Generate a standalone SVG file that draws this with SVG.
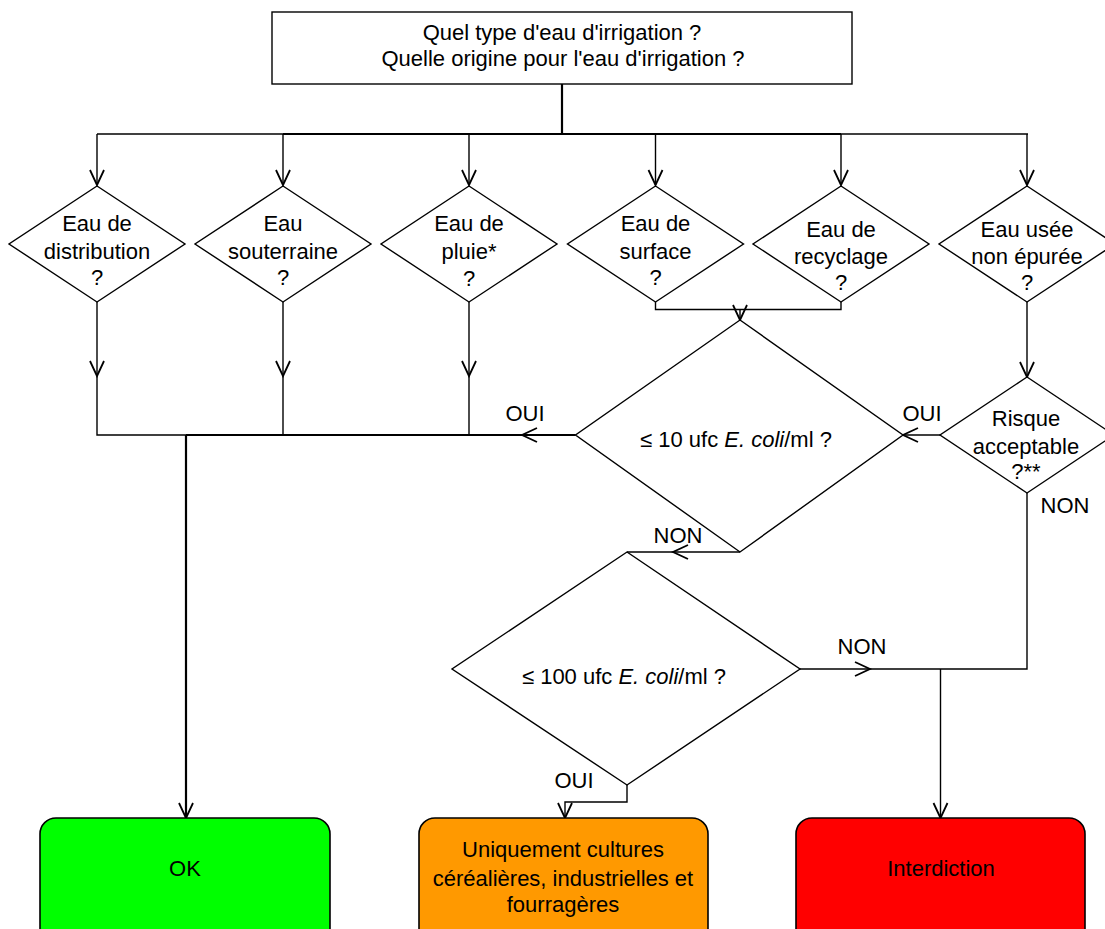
<svg xmlns="http://www.w3.org/2000/svg" width="1105" height="929" viewBox="0 0 1105 929">
<style>
text{font-family:"Liberation Sans",Arial,sans-serif;font-size:22px;fill:#000;text-anchor:middle}
.ln{fill:none;stroke:#000;stroke-width:1.4}
.th{fill:none;stroke:#000;stroke-width:2.2}
.shape{fill:#fff;stroke:#000;stroke-width:1.4}
.box{stroke:#000;stroke-width:1.6}
</style>
<defs>
<marker id="a" markerUnits="userSpaceOnUse" markerWidth="20" markerHeight="20" viewBox="-16 -10 20 20" refX="0" refY="0" orient="auto">
<path d="M-15,-7 L0,0 L-15,7" fill="none" stroke="#000" stroke-width="1.8"/>
</marker>
</defs>
<g id="connectors">
<path class="th" d="M562,84 V134"/>
<path class="ln" d="M97,134 H1028"/>
<path class="th" d="M283,134 H841"/>
<path class="ln" d="M97,134 V185" marker-end="url(#a)"/>
<path class="ln" d="M283,134 V185" marker-end="url(#a)"/>
<path class="ln" d="M469,134 V185" marker-end="url(#a)"/>
<path class="ln" d="M655.5,134 V185" marker-end="url(#a)"/>
<path class="ln" d="M841,134 V185" marker-end="url(#a)"/>
<path class="ln" d="M1027,134 V185" marker-end="url(#a)"/>
<path class="ln" d="M97,302 V376" marker-end="url(#a)"/>
<path class="ln" d="M97,376 V435 H186"/>
<path class="ln" d="M283,302 V376" marker-end="url(#a)"/>
<path class="ln" d="M283,376 V435"/>
<path class="ln" d="M469,302 V376" marker-end="url(#a)"/>
<path class="ln" d="M469,376 V435"/>
<path class="th" d="M186,435 H575.5"/>
<path class="ln" d="M575.5,435 H522" marker-end="url(#a)"/>
<path class="th" d="M186,435 V818" marker-end="url(#a)"/>
<path class="ln" d="M655.5,302 V309.5 H841 V302"/>
<path class="ln" d="M740,309.5 V320" marker-end="url(#a)"/>
<path class="ln" d="M1027,302 V377" marker-end="url(#a)"/>
<path class="ln" d="M940,435 H903" marker-end="url(#a)"/>
<path class="ln" d="M740,552 H673" marker-end="url(#a)"/>
<path class="ln" d="M673,552 H627"/>
<path class="ln" d="M800,669 H870" marker-end="url(#a)"/>
<path class="ln" d="M870,669 H1027 V493"/>
<path class="ln" d="M940.5,669 V818" marker-end="url(#a)"/>
<path class="ln" d="M627,785 V802 H565 V818" marker-end="url(#a)"/>
</g>
<g id="labels">
<text x="525" y="421">OUI</text>
<text x="922" y="421">OUI</text>
<text x="1065" y="513">NON</text>
<text x="678" y="543">NON</text>
<text x="862" y="654">NON</text>
<text x="574" y="788">OUI</text>
</g>
<g id="start">
<rect class="shape" x="272" y="12" width="580" height="72"/>
<text x="562" y="40">Quel type d'eau d'irrigation ?</text>
<text x="563" y="66">Quelle origine pour l'eau d'irrigation ?</text>
</g>
<g id="d-distribution">
<polygon class="shape" points="97,186 185,244 97,302 9,244"/>
<text x="97" y="231">Eau de</text>
<text x="97" y="259">distribution</text>
<text x="97" y="285">?</text>
</g>
<g id="d-souterraine">
<polygon class="shape" points="283,186 371,244 283,302 195,244"/>
<text x="283" y="231">Eau</text>
<text x="283" y="259">souterraine</text>
<text x="283" y="285">?</text>
</g>
<g id="d-pluie">
<polygon class="shape" points="469,186 557,244 469,302 381,244"/>
<text x="469" y="231">Eau de</text>
<text x="469" y="259">pluie*</text>
<text x="469" y="286">?</text>
</g>
<g id="d-surface">
<polygon class="shape" points="655.5,186 743.5,244 655.5,302 567.5,244"/>
<text x="655.5" y="231">Eau de</text>
<text x="655.5" y="259">surface</text>
<text x="655.5" y="285">?</text>
</g>
<g id="d-recyclage">
<polygon class="shape" points="841,186 929,244 841,302 753,244"/>
<text x="841" y="237">Eau de</text>
<text x="841" y="264">recyclage</text>
<text x="841" y="290">?</text>
</g>
<g id="d-usee">
<polygon class="shape" points="1027,186 1115,244 1027,302 939,244"/>
<text x="1027" y="237">Eau usée</text>
<text x="1027" y="264">non épurée</text>
<text x="1027" y="290">?</text>
</g>
<g id="d-10">
<polygon class="shape" points="740,320 903,435 740,552 575.5,435"/>
<text x="736" y="447">≤ 10 ufc <tspan font-style="italic">E. coli</tspan>/ml ?</text>
</g>
<g id="d-risque">
<polygon class="shape" points="1027,377 1114,435 1027,493 940,435"/>
<text x="1026" y="426">Risque</text>
<text x="1026" y="454">acceptable</text>
<text x="1026" y="479">?**</text>
</g>
<g id="d-100">
<polygon class="shape" points="627,552 800,669 627,785 452,669"/>
<text x="624" y="684">≤ 100 ufc <tspan font-style="italic">E. coli</tspan>/ml ?</text>
</g>
<g id="ok">
<rect class="box" x="40" y="818" width="290" height="140" rx="16" fill="#00ff00"/>
<text x="185" y="876">OK</text>
</g>
<g id="orange">
<rect class="box" x="419" y="818" width="289" height="140" rx="16" fill="#ff9900"/>
<text x="563" y="857">Uniquement cultures</text>
<text x="563" y="886">céréalières, industrielles et</text>
<text x="563" y="912">fourragères</text>
</g>
<g id="interdiction">
<rect class="box" x="796" y="818" width="289" height="140" rx="16" fill="#ff0000"/>
<text x="941" y="876">Interdiction</text>
</g>
</svg>
